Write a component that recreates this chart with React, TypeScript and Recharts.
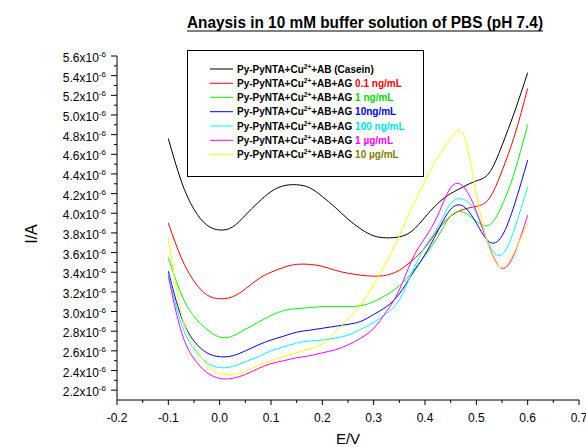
import React from 'react';
import { LineChart, Line, XAxis, YAxis } from 'recharts';

// Potential (V)
const E = [-0.1, -0.075, -0.05, -0.025, 0, 0.025, 0.05, 0.075, 0.1, 0.125, 0.15, 0.175, 0.2, 0.225, 0.25, 0.275, 0.3, 0.325, 0.35, 0.375, 0.4, 0.425, 0.45, 0.475, 0.5, 0.525, 0.55, 0.575, 0.6];

// Current (x10^-6 A)
const CASEIN = [4.76, 4.33, 4.04, 3.88, 3.83, 3.86, 3.98, 4.11, 4.22, 4.28, 4.29, 4.26, 4.17, 4.06, 3.94, 3.84, 3.77, 3.75, 3.76, 3.82, 3.96, 4.10, 4.20, 4.27, 4.33, 4.41, 4.69, 5.04, 5.43];
const AG_01NG = [3.90, 3.55, 3.31, 3.17, 3.13, 3.15, 3.23, 3.33, 3.40, 3.45, 3.48, 3.48, 3.46, 3.42, 3.39, 3.37, 3.36, 3.37, 3.42, 3.52, 3.65, 3.83, 3.97, 4.04, 4.07, 4.15, 4.43, 4.80, 5.27];
const AG_1NG = [3.55, 3.18, 2.95, 2.82, 2.74, 2.75, 2.82, 2.89, 2.96, 3.01, 3.03, 3.04, 3.05, 3.05, 3.05, 3.06, 3.10, 3.17, 3.26, 3.40, 3.57, 3.76, 3.97, 4.01, 3.92, 3.88, 4.08, 4.43, 4.90];
const AG_10NG = [3.41, 2.95, 2.70, 2.58, 2.54, 2.55, 2.60, 2.66, 2.71, 2.75, 2.79, 2.81, 2.83, 2.85, 2.87, 2.90, 2.97, 3.05, 3.18, 3.38, 3.58, 3.82, 4.04, 4.07, 3.90, 3.71, 3.77, 4.10, 4.54];
const AG_100NG = [3.38, 2.88, 2.62, 2.48, 2.43, 2.44, 2.49, 2.54, 2.60, 2.64, 2.68, 2.70, 2.71, 2.73, 2.76, 2.82, 2.89, 2.98, 3.12, 3.40, 3.66, 3.86, 4.10, 4.14, 4.00, 3.68, 3.58, 3.85, 4.27];
const AG_1UG = [3.36, 2.80, 2.52, 2.38, 2.32, 2.32, 2.36, 2.42, 2.47, 2.50, 2.53, 2.55, 2.58, 2.61, 2.66, 2.73, 2.83, 3.00, 3.22, 3.53, 3.75, 3.98, 4.26, 4.27, 4.02, 3.66, 3.44, 3.60, 3.98];
const AG_10UG = [3.75, 2.98, 2.66, 2.46, 2.37, 2.36, 2.39, 2.45, 2.50, 2.54, 2.58, 2.62, 2.67, 2.79, 2.92, 3.07, 3.27, 3.51, 3.77, 4.06, 4.33, 4.57, 4.76, 4.80, 4.20, 3.65, 3.45, 3.62, 3.90];

const X_TICKS = [-0.2, -0.15, -0.1, -0.05, 0, 0.05, 0.1, 0.15, 0.2, 0.25, 0.3, 0.35, 0.4, 0.45, 0.5, 0.55, 0.6, 0.65, 0.7];
const Y_TICKS = [2.2, 2.3, 2.4, 2.5, 2.6, 2.7, 2.8, 2.9, 3.0, 3.1, 3.2, 3.3, 3.4, 3.5, 3.6, 3.7, 3.8, 3.9, 4.0, 4.1, 4.2, 4.3, 4.4, 4.5, 4.6, 4.7, 4.8, 4.9, 5.0, 5.1, 5.2, 5.3, 5.4, 5.5, 5.6];

const TITLE = 'Anaysis in 10 mM buffer solution of PBS (pH 7.4)';
const X_LABEL = 'E/V';
const Y_LABEL = 'I/A';

const SERIES = [
  { key: 'casein', values: CASEIN, color: '#000000', base: '+AB (Casein)', conc: '', concColor: '#000000' },
  { key: 'ag01ng', values: AG_01NG, color: '#FF0000', base: '+AB+AG ', conc: '0.1 ng/mL', concColor: '#FF0000' },
  { key: 'ag1ng', values: AG_1NG, color: '#00FF00', base: '+AB+AG ', conc: '1 ng/mL', concColor: '#00DD00' },
  { key: 'ag10ng', values: AG_10NG, color: '#0000FF', base: '+AB+AG ', conc: '10ng/mL', concColor: '#0000FF' },
  { key: 'ag100ng', values: AG_100NG, color: '#00FFFF', base: '+AB+AG ', conc: '100 ng/mL', concColor: '#00E5E5' },
  { key: 'ag1ug', values: AG_1UG, color: '#FF00FF', base: '+AB+AG ', conc: '1 µg/mL', concColor: '#FF00FF' },
  { key: 'ag10ug', values: AG_10UG, color: '#FFFF00', base: '+AB+AG ', conc: '10 µg/mL', concColor: '#808000' },
];

const data = E.map((e, i) => {
  const row: Record<string, number> = { E: e };
  SERIES.forEach((s) => { row[s.key] = s.values[i]; });
  return row;
});

const FONT = '"Liberation Sans", Arial, sans-serif';

const XTick = (props: any) => {
  const { x, y, payload } = props;
  const v = payload.value as number;
  const major = Math.abs(Math.round(v * 100)) % 10 === 0;
  return (
    <g>
      <line x1={x} x2={x} y1={y} y2={y + (major ? 5 : 3)} stroke="#000" strokeWidth={1} />
      {major && (
        <text x={x} y={y + 22} textAnchor="middle" fontSize={12} fontFamily={FONT} fill="#000">
          {v.toFixed(1)}
        </text>
      )}
    </g>
  );
};

const YTick = (props: any) => {
  const { x, y, payload } = props;
  const v = payload.value as number;
  const major = Math.abs(Math.round(v * 10)) % 2 === 0;
  return (
    <g>
      <line x1={x - (major ? 6 : 3)} x2={x} y1={y} y2={y} stroke="#000" strokeWidth={1} />
      {major && (
        <text x={x - 11} y={y + 6} textAnchor="end" fontSize={12} fontFamily={FONT} fill="#000">
          {v.toFixed(1)}x10<tspan dy={-5} fontSize={8}>-6</tspan>
        </text>
      )}
    </g>
  );
};

const LEGEND_ROW_Y = [69, 83.3, 97.3, 111.7, 126, 140.3, 154.3];

export default function App() {
  return (
    <div style={{ position: 'absolute', left: 0, top: 0, width: 586, height: 447, background: '#fff' }}>
      <LineChart width={586} height={447} data={data} margin={{ top: 56, right: 7, bottom: 0, left: 0 }}>
        <XAxis
          dataKey="E"
          type="number"
          domain={[-0.2, 0.7]}
          ticks={X_TICKS}
          interval={0}
          height={47}
          tickSize={0}
          tickMargin={0}
          tickLine={false}
          axisLine={{ stroke: '#000', strokeWidth: 1 }}
          tick={<XTick />}
          allowDataOverflow
        />
        <YAxis
          type="number"
          domain={[2.1, 5.6]}
          ticks={Y_TICKS}
          interval={0}
          width={117}
          tickSize={0}
          tickMargin={0}
          tickLine={false}
          axisLine={{ stroke: '#000', strokeWidth: 1 }}
          tick={<YTick />}
          allowDataOverflow
        />
        {SERIES.map((s) => (
          <Line
            key={s.key}
            dataKey={s.key}
            type="natural"
            stroke={s.color}
            strokeWidth={1}
            dot={false}
            activeDot={false}
            isAnimationActive={false}
          />
        ))}
      </LineChart>
      <svg width={586} height={447} style={{ position: 'absolute', left: 0, top: 0, pointerEvents: 'none' }}>
        <text x={365} y={28} textAnchor="middle" fontSize={16} fontWeight="bold" fontFamily={FONT} fill="#000" textLength={356} lengthAdjust="spacingAndGlyphs">
          {TITLE}
        </text>
        <line x1={187} x2={543} y1={31} y2={31} stroke="#000" strokeWidth={1.2} />
        <text x={348} y={444} textAnchor="middle" fontSize={15} fontFamily={FONT} fill="#000">{X_LABEL}</text>
        <text transform="translate(37,234) rotate(-90)" textAnchor="middle" fontSize={16} fontFamily={FONT} fill="#000">{Y_LABEL}</text>
        <rect x={187.5} y={50.5} width={236} height={126} fill="#fff" stroke="#000" strokeWidth={1} />
        {SERIES.map((s, i) => (
          <g key={s.key}>
            <line x1={210} x2={233} y1={LEGEND_ROW_Y[i]} y2={LEGEND_ROW_Y[i]} stroke={s.color} strokeWidth={1} />
            <text x={237} y={LEGEND_ROW_Y[i] + 3.5} fontSize={10} fontWeight="bold" fontFamily={FONT} fill="#000">
              Py-PyNTA+Cu<tspan dy={-4} fontSize={6.5}>2+</tspan><tspan dy={4}>{s.base}</tspan>
              <tspan fill={s.concColor}>{s.conc}</tspan>
            </text>
          </g>
        ))}
      </svg>
    </div>
  );
}
